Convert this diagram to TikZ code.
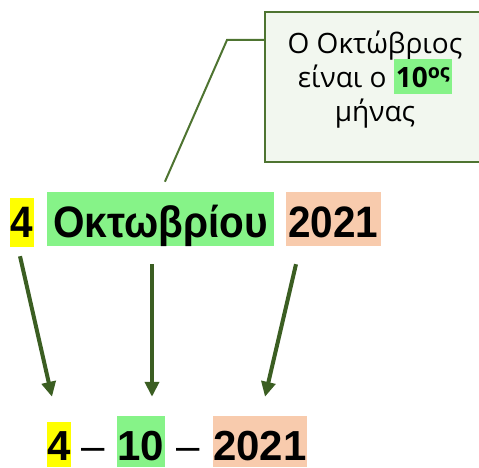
\documentclass[tikz,border=0pt]{standalone}
\usepackage{fontspec}
\setmainfont{Open Sans}
\newfontfamily\datefont{Liberation Sans}
\newfontfamily\datenarrow[FakeStretch=0.92]{Liberation Sans}
\usetikzlibrary{arrows.meta,calc}
\definecolor{hlyellow}{HTML}{FFFF00}
\definecolor{hlgreen}{HTML}{86F388}
\definecolor{hlorange}{HTML}{F8CBAD}
\definecolor{arrowgreen}{HTML}{3B5E22}
\definecolor{notegreen}{HTML}{4E7431}
\definecolor{notefill}{HTML}{F2F7EF}
\newcommand{\monthmark}[1]{\smash{\setlength{\fboxsep}{2pt}\colorbox{hlgreen}{\rule[-5pt]{0pt}{31pt}#1}}}
\begin{document}
\begin{tikzpicture}[x=1pt, y=-1pt,
  bigdate/.style={inner sep=0pt, anchor=base, text height=45pt, text depth=9pt, font=\datenarrow\bfseries\fontsize{44}{50}\selectfont},
  smalldate/.style={inner sep=0pt, anchor=base, text height=44pt, text depth=7pt, font=\datefont\bfseries\fontsize{42}{48}\selectfont},
  pointer/.style={arrowgreen, line width=4pt, -{Triangle[width=14pt,length=15pt]}}]
\useasboundingbox (0,0) rectangle (479,468);
\node[draw=notegreen, line width=2.5pt, fill=notefill, minimum width=220pt, minimum height=150pt,
  align=center, font=\fontsize{28}{34}\selectfont] (note) at (375,87)
  {Ο Οκτώβριος\\ είναι ο \monthmark{\textbf{10\textsuperscript{ος}}}\\ μήνας\\[-12pt]\mbox{}};
\node[bigdate, fill=hlyellow, text height=39pt, text depth=10pt, minimum width=24pt] (day) at (22,237) {4};
\node[bigdate, fill=hlgreen, minimum width=227pt] (month) at (160.5,237) {Οκτωβρίου};
\node[bigdate, fill=hlorange, minimum width=95pt] (year) at (333.5,237) {2021};
\node[smalldate, fill=hlyellow, text height=38pt, minimum width=24pt] (numday) at (59,460) {4};
\node[smalldate, fill=hlgreen, minimum width=48pt] (nummonth) at (141,460) {10};
\node[smalldate, fill=hlorange, minimum width=94pt] (numyear) at (260,460) {2021};
\node[anchor=base, inner sep=0pt, font=\datefont\fontsize{42}{48}\selectfont] (dasha) at (93,460) {–};
\node[anchor=base, inner sep=0pt, font=\datefont\fontsize{42}{48}\selectfont] (dashb) at (188.5,460) {–};
\coordinate (bend) at (227,40);
\draw[notegreen, line width=2pt, shorten <=11pt] (month.north) -- (bend) -- (note.west |- bend);
\draw[pointer] ([shift={(-2,9)}]day.south) -- ([shift={(-7,-25)}]numday.north);
\draw[pointer] ([shift={(-8.5,18)}]month.south) -- ([shift={(11,-19)}]nummonth.north);
\draw[pointer] ([shift={(-37.5,18)}]year.south) -- ([shift={(5,-19)}]numyear.north);
\end{tikzpicture}
\end{document}
